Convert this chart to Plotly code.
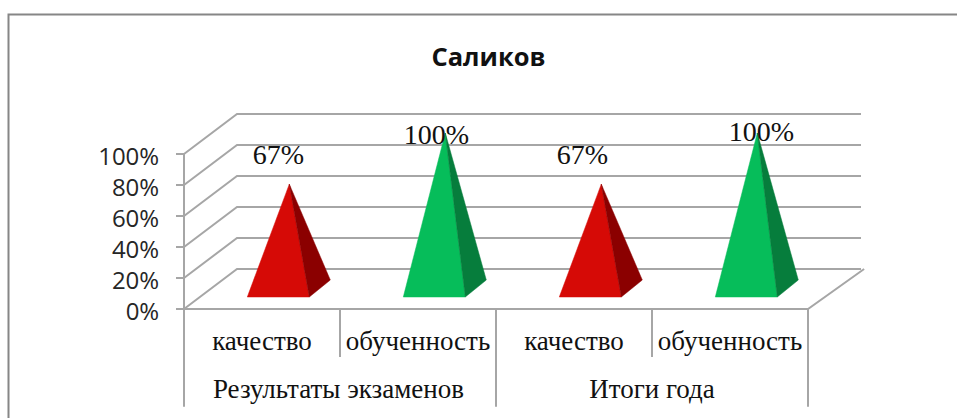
import plotly.graph_objects as go

# ---- data ----
groups = ["Результаты экзаменов", "Итоги года"]
categories = ["качество", "обученность", "качество", "обученность"]
values = [67, 100, 67, 100]
value_labels = ["67%", "100%", "67%", "100%"]
y_ticks = [0, 20, 40, 60, 80, 100]
y_tick_labels = ["0%", "20%", "40%", "60%", "80%", "100%"]
title = "Саликов"

# ---- geometry (pixel scale of the pseudo-3D plot) ----
W, H = 957, 418
X0, CAT_W = 184, 156          # px of category origin, px per category
Y0, PCT = 309, 1.55           # px of 0%, px per percent
DX, DY = 53 / CAT_W, 40 / PCT # depth offset of the back wall (data units)

GRID = "#a6a6a6"
RED, RED_D = "#d60a06", "#8b0000"
GREEN, GREEN_D = "#06bd5a", "#067d3c"
COLORS = [(RED, RED_D), (GREEN, GREEN_D), (RED, RED_D), (GREEN, GREEN_D)]
LABEL_DX = [-11, -9, -19, 4]   # px, labels were hand placed in the original
LABEL_DY = [27, -4, 27, -1]    # px above 'value' height

n = len(categories)
fig = go.Figure()


def line(xs, ys, color=GRID, width=2):
    fig.add_trace(go.Scatter(x=xs, y=ys, mode="lines", line=dict(color=color, width=width),
                             hoverinfo="skip", showlegend=False))


def poly(xs, ys, color):
    fig.add_trace(go.Scatter(x=xs, y=ys, mode="lines", fill="toself", fillcolor=color,
                             line=dict(color=color, width=0.5), hoverinfo="skip", showlegend=False))


# gridlines: left wall diagonal + back wall
for t in y_ticks:
    line([0, DX, n + DX + 0.0], [t, t + DY, t + DY])
# floor front edge and right floor diagonal
line([0, n, n + DX + 0.02], [0, 0, DY])
# separators under the axis
line([0, 0], [100, -63])
for i in range(1, n):
    low = -63 if i % 2 == 0 else -31
    line([i, i], [0, low])
line([n, n], [0, -63])

# pyramids
FL, FR, BR = -42 / CAT_W, 20 / CAT_W, 41 / CAT_W   # base corners rel. to centre
BASE_F, BASE_B, BASE_C = 12 / PCT, 29 / PCT, 21 / PCT  # base heights on the floor
centres = [0.675, 1.675, 2.675, 3.675]
for c, v, (front, side) in zip(centres, values, COLORS):
    top = BASE_C + v
    poly([c + FL, c + FR, c, c + FL], [BASE_F, BASE_F, top, BASE_F], front)
    poly([c + FR, c + BR, c, c + FR], [BASE_F, BASE_B, top, BASE_F], side)

# value labels
fig.add_trace(go.Scatter(
    x=[c + dx / CAT_W for c, dx in zip(centres, LABEL_DX)],
    y=[BASE_C + v + dy / PCT for v, dy in zip(values, LABEL_DY)],
    mode="text", text=value_labels, textposition="middle center",
    textfont=dict(family="Liberation Serif", size=28, color="#111111"),
    hoverinfo="skip", showlegend=False))

# category labels
fig.add_trace(go.Scatter(
    x=[i + 0.5 for i in range(n)], y=[-21.8] * n, mode="text", text=categories,
    textposition="middle center", textfont=dict(family="Liberation Serif", size=27, color="#111111"),
    hoverinfo="skip", showlegend=False))
# group labels
fig.add_trace(go.Scatter(
    x=[0.99, 3.0], y=[-53.3] * 2, mode="text", text=groups,
    textposition="middle center", textfont=dict(family="Liberation Serif", size=27, color="#111111"),
    hoverinfo="skip", showlegend=False))

fig.update_layout(
    width=W, height=H, margin=dict(l=0, r=0, t=0, b=0), autosize=False,
    paper_bgcolor="white", plot_bgcolor="white", showlegend=False,
    title=dict(text="<b>%s</b>" % title, x=488.5 / W, y=1 - 57 / H, xanchor="center", yanchor="middle",
               font=dict(family="Open Sans", size=25.5, color="#111111")),
    xaxis=dict(range=[-X0 / CAT_W, (W - X0) / CAT_W], visible=False, fixedrange=True),
    yaxis=dict(range=[(Y0 - H) / PCT, Y0 / PCT], tickmode="array", tickvals=y_ticks, ticktext=y_tick_labels,
               showgrid=False, zeroline=False, showline=False, ticks="outside", ticklen=8, tickwidth=2,
               tickcolor=GRID, anchor="free", position=X0 / W, side="left", fixedrange=True,
               ticklabelstandoff=12, ticklabelshift=3,
               tickfont=dict(family="Open Sans", size=24, color="#262626")),
    shapes=[dict(type="path", xref="paper", yref="paper",
                 path="M %f 0 L %f %f L 1 %f" % (8.5 / W, 8.5 / W, 1 - 14.5 / H, 1 - 14.5 / H),
                 line=dict(color="#868686", width=2))],
)
fig.write_html("out.html", config=dict(displayModeBar=False),
               post_script="document.body.style.margin='0';document.body.style.overflow='hidden';")
